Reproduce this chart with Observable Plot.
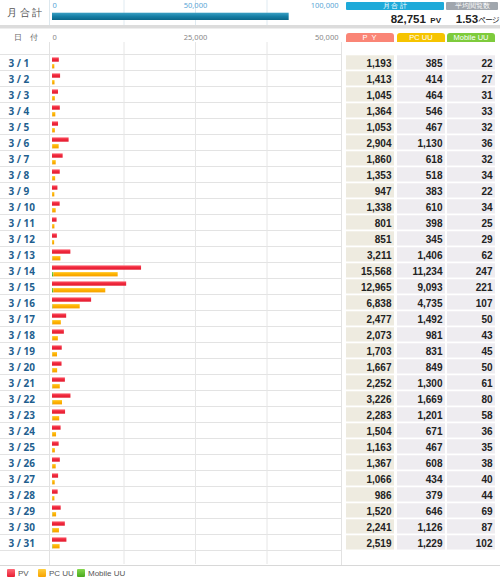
<!DOCTYPE html>
<html><head><meta charset="utf-8">
<script src="https://cdn.jsdelivr.net/npm/d3@7"></script>
<script src="https://cdn.jsdelivr.net/npm/@observablehq/plot@0.6"></script>
<style>
body{margin:0;background:#fff;font-family:"Liberation Sans",Arial,sans-serif;}
#root{position:relative;width:500px;height:580px;overflow:hidden;background:#fff;}
.abs{position:absolute;}
.num{font-family:"Liberation Sans Narrow","Liberation Sans",Arial,sans-serif;font-weight:bold;color:#222;}
.hdr{position:absolute;height:9px;line-height:9px;font-size:7.5px;color:#fff;text-align:center;border-radius:3px 3px 0 0;}
.leg{position:absolute;top:569px;font-size:8px;color:#555;line-height:8px;}
.sw{position:absolute;top:569px;width:8px;height:8px;}
svg{display:block;overflow:hidden;}
</style></head><body><div id="root"></div>
<script>
// ---------- data ----------
const dates = ["3 / 1","3 / 2","3 / 3","3 / 4","3 / 5","3 / 6","3 / 7","3 / 8","3 / 9","3 / 10",
  "3 / 11","3 / 12","3 / 13","3 / 14","3 / 15","3 / 16","3 / 17","3 / 18","3 / 19","3 / 20",
  "3 / 21","3 / 22","3 / 23","3 / 24","3 / 25","3 / 26","3 / 27","3 / 28","3 / 29","3 / 30","3 / 31"];
const pv = [1193,1413,1045,1364,1053,2904,1860,1353,947,1338,801,851,3211,15568,12965,6838,
  2477,2073,1703,1667,2252,3226,2283,1504,1163,1367,1066,986,1520,2241,2519];
const pcUU = [385,414,464,546,467,1130,618,518,383,610,398,345,1406,11234,9093,4735,
  1492,981,831,849,1300,1669,1201,671,467,608,434,379,646,1126,1229];
const mobileUU = [22,27,31,33,32,36,32,34,22,34,25,29,62,247,221,107,
  50,43,45,50,61,80,58,36,35,38,40,44,69,87,102];
const monthTotal = 82751;
const avgPages = "1.53";
const topTicks = [0, 50000, 100000];
const topGrid = [25000, 50000, 75000];
const mainTicks = [0, 25000, 50000];
const mainGrid = [12500, 25000, 37500];
const seriesNames = ["PV", "PC UU", "Mobile UU"];
const seriesColors = ["#ef2a3c", "#fdb200", "#5cb82c"];
const headerLabels = ["P Y", "PC UU", "Mobile UU"];
const headerColors = ["#fa8576", "#f6c400", "#7ecb3c"];
const cellColors = ["#eeebe0", "#eeecf0", "#eeecf0"];

const root = document.getElementById("root");
const fmt = d3.format(",");
const rows = dates.map((date, i) => ({date, pv: pv[i], pc: pcUU[i], mobile: mobileUU[i]}));

function gradDefs(svg) {
  const defs = `
  <linearGradient id="gPV" x1="0" y1="0" x2="0" y2="1"><stop offset="0" stop-color="#ff7a86"/><stop offset="0.35" stop-color="#f22c40"/><stop offset="1" stop-color="#e31a2e"/></linearGradient>
  <linearGradient id="gPC" x1="0" y1="0" x2="0" y2="1"><stop offset="0" stop-color="#ffd24a"/><stop offset="0.4" stop-color="#ffb400"/><stop offset="1" stop-color="#f6a000"/></linearGradient>
  <linearGradient id="gMB" x1="0" y1="0" x2="0" y2="1"><stop offset="0" stop-color="#8ade52"/><stop offset="1" stop-color="#4aa81e"/></linearGradient>
  <linearGradient id="gTop" x1="0" y1="0" x2="0" y2="1"><stop offset="0" stop-color="#3aa0c4"/><stop offset="0.5" stop-color="#167fa6"/><stop offset="1" stop-color="#0b6688"/></linearGradient>`;
  d3.select(svg).insert("defs", ":first-child").html(defs);
}
function place(el, left, top) {
  el.style.position = "absolute"; el.style.left = left + "px"; el.style.top = top + "px";
  root.appendChild(el);
}
function div(cls, left, top, html, style) {
  const d = document.createElement("div");
  d.className = cls; d.innerHTML = html;
  d.style.left = left + "px"; d.style.top = top + "px";
  if (style) Object.assign(d.style, style);
  root.appendChild(d);
  return d;
}

// ---------- top summary bar ----------
const topPlot = Plot.plot({
  width: 342, height: 25, margin: 0,
  x: {domain: [0, 100000], range: [52, 338], axis: null},
  marks: [
    Plot.ruleX(topGrid, {stroke: "#dfeaf1"}),
    Plot.barX([monthTotal], {x: d => d, fill: "url(#gTop)", insetTop: 12.7, insetBottom: 5}),
    Plot.text([topTicks[0]], {x: d => d, text: d => fmt(d), frameAnchor: "top", lineAnchor: "middle", dy: 5.5, textAnchor: "start", fontSize: 7.5, fill: "#5aa6d6"}),
    Plot.text([topTicks[1]], {x: d => d, text: d => fmt(d), frameAnchor: "top", lineAnchor: "middle", dy: 5.5, textAnchor: "middle", fontSize: 7.5, fill: "#5aa6d6"}),
    Plot.text([topTicks[2]], {x: d => d, text: d => fmt(d), frameAnchor: "top", lineAnchor: "middle", dy: 5.5, textAnchor: "end", fontSize: 7.5, fill: "#5aa6d6"})
  ]
});
gradDefs(topPlot);
place(topPlot, 0, 0);

div("abs", 7, 7, "月合計", {fontSize: "10px", letterSpacing: "2.5px", color: "#555", lineHeight: "12px"});
div("abs", 49, 0, "", {width: "1px", height: "25px", background: "#dde8ee"});
div("hdr", 346, 2, "月 合 計", {width: "98px", height: "7.5px", lineHeight: "7.5px", background: "#1eaad9", borderRadius: "1px", fontSize: "7px"});
div("hdr", 446, 2, "平均閲覧数", {width: "52px", height: "7.5px", lineHeight: "7.5px", background: "#a0a6ad", borderRadius: "1px", fontSize: "7px"});
div("abs num", 346, 11, `<span style="font-size:11.5px">${fmt(monthTotal)}</span> <span style="font-size:8px">PV</span>`, {width: "95px", textAlign: "right", lineHeight: "13px"});
div("abs num", 446, 11, `<span style="font-size:11.5px">${avgPages}</span><span style="font-size:7.5px;font-family:'Noto Sans CJK JP';font-weight:normal;letter-spacing:-0.5px">ページ</span>`, {width: "53px", textAlign: "right", lineHeight: "13px"});

// separator band
div("abs", 0, 25, "", {width: "500px", height: "3px", background: "#dcdcdc"});
div("abs", 0, 28, "", {width: "500px", height: "1px", background: "#eeeeee"});

// ---------- main bar chart ----------
const H = 532, MT = 10;
const mainPlot = Plot.plot({
  width: 342, height: H, marginTop: MT, marginBottom: 0, marginLeft: 0, marginRight: 0,
  x: {domain: [0, 50000], range: [52, 338], axis: null},
  y: {domain: dates, padding: 0, axis: null},
  marks: [
    Plot.cell(dates, {y: d => d, fill: "none", stroke: "#e3e3e3", strokeWidth: 1, insetLeft: -3, insetRight: -3, insetTop: -0.5, insetBottom: 0.5}),
    Plot.ruleX(mainGrid, {stroke: "#e6e6e6"}),
    Plot.barX(rows, {x1: 0, x2: "pv", y: "date", fill: "url(#gPV)", insetTop: 2.3, insetBottom: 9.3}),
    Plot.barX(rows, {x1: 0, x2: "mobile", y: "date", fill: "url(#gMB)", insetTop: 9, insetBottom: 2.6}),
    Plot.barX(rows, {x1: "mobile", x2: d => d.mobile + d.pc, y: "date", fill: "url(#gPC)", insetTop: 9, insetBottom: 2.6}),
    Plot.text(rows, {y: "date", text: "date", frameAnchor: "left", dx: 8, textAnchor: "start", fontSize: 10, fontWeight: "bold", fill: "#1f5f8f"}),
    Plot.text(["日　付"], {text: d => d, frameAnchor: "top-left", lineAnchor: "middle", dx: 13, dy: -5, textAnchor: "start", fontSize: 7.5, fill: "#666"}),
    Plot.text([mainTicks[0]], {x: d => d, text: d => fmt(d), frameAnchor: "top", lineAnchor: "middle", dy: -5, textAnchor: "start", fontSize: 7.5, fill: "#888"}),
    Plot.text([mainTicks[1]], {x: d => d, text: d => fmt(d), frameAnchor: "top", lineAnchor: "middle", dy: -5, textAnchor: "middle", fontSize: 7.5, fill: "#888"}),
    Plot.text([mainTicks[2]], {x: d => d, text: d => fmt(d), frameAnchor: "top", lineAnchor: "middle", dy: -5, textAnchor: "end", fontSize: 7.5, fill: "#888"})
  ]
});
gradDefs(mainPlot);
place(mainPlot, 0, 32);
div("abs", 49, 42, "", {width: "1px", height: "523px", background: "#e2e2e2"});
div("abs", 341, 42, "", {width: "1px", height: "523px", background: "#e2e2e2"});

// ---------- table columns ----------
const colValues = [pv, pcUU, mobileUU];
const colLeft = [346, 397, 447];
colValues.forEach((vals, c) => {
  const p = Plot.plot({
    width: 48, height: H, marginTop: MT, marginBottom: 0, marginLeft: 0, marginRight: 0,
    x: {axis: null},
    y: {domain: dates, padding: 0, axis: null},
    marks: [
      Plot.cell(dates, {y: d => d, fill: cellColors[c], insetTop: 0.3, insetBottom: 1.5}),
      Plot.text(vals, {y: (d, i) => dates[i], text: d => fmt(d), frameAnchor: "right", dx: -3, textAnchor: "end",
        fontSize: 10, fontWeight: "bold", fill: "#222", fontFamily: "'Liberation Sans Narrow','Liberation Sans',Arial,sans-serif"})
    ]
  });
  place(p, colLeft[c], 32);
  div("hdr", colLeft[c], 33, headerLabels[c], {width: "48px", background: headerColors[c], letterSpacing: c === 0 ? "1px" : "0"});
});

// ---------- bottom line & legend ----------
div("abs", 0, 565, "", {width: "500px", height: "1px", background: "#d8d8d8"});
const legX = [7, 38, 77];
const legTextX = [18, 49, 88];
const gradIds = ["#ff6a78,#e81e32", "#ffcf40,#f7a300", "#86d94e,#4aa81e"];
seriesNames.forEach((name, i) => {
  div("sw", legX[i], 0, "", {top: "569px", background: `linear-gradient(${gradIds[i]})`, borderRadius: "1px"});
  div("leg", legTextX[i], 0, name, {top: "569.5px"});
});
</script></body></html>
